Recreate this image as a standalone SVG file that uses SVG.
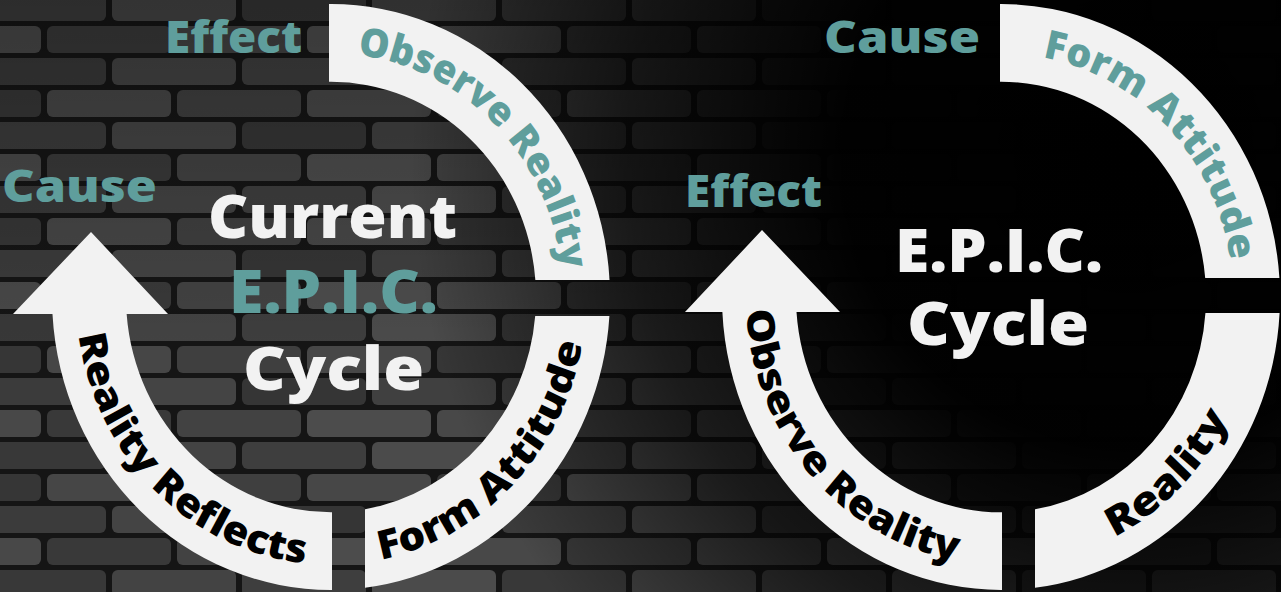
<svg xmlns="http://www.w3.org/2000/svg" xmlns:xlink="http://www.w3.org/1999/xlink" width="1281" height="592" viewBox="0 0 1281 592">
<defs>
  <pattern id="bricks" patternUnits="userSpaceOnUse" x="-20" y="-8" width="520" height="128">
    <rect width="520" height="128" fill="#151515"/>
    <g>
      <rect x="2" y="2" width="124" height="27" rx="6" fill="#3b3b3b"/>
      <rect x="132" y="2" width="124" height="27" rx="6" fill="#444444"/>
      <rect x="262" y="2" width="124" height="27" rx="6" fill="#353535"/>
      <rect x="392" y="2" width="124" height="27" rx="6" fill="#404040"/>
      <rect x="-63" y="34" width="124" height="27" rx="6" fill="#484848"/>
      <rect x="457" y="34" width="124" height="27" rx="6" fill="#484848"/>
      <rect x="67" y="34" width="124" height="27" rx="6" fill="#393939"/>
      <rect x="197" y="34" width="124" height="27" rx="6" fill="#424242"/>
      <rect x="327" y="34" width="124" height="27" rx="6" fill="#4c4c4c"/>
      <rect x="2" y="66" width="124" height="27" rx="6" fill="#383838"/>
      <rect x="132" y="66" width="124" height="27" rx="6" fill="#434343"/>
      <rect x="262" y="66" width="124" height="27" rx="6" fill="#3e3e3e"/>
      <rect x="392" y="66" width="124" height="27" rx="6" fill="#4b4b4b"/>
      <rect x="-63" y="98" width="124" height="27" rx="6" fill="#363636"/>
      <rect x="457" y="98" width="124" height="27" rx="6" fill="#363636"/>
      <rect x="67" y="98" width="124" height="27" rx="6" fill="#464646"/>
      <rect x="197" y="98" width="124" height="27" rx="6" fill="#3f3f3f"/>
      <rect x="327" y="98" width="124" height="27" rx="6" fill="#474747"/>
    </g>
  </pattern>
  <radialGradient id="darkR" gradientUnits="userSpaceOnUse" cx="1130" cy="160" r="720">
    <stop offset="0" stop-color="#000" stop-opacity="1"/>
    <stop offset="0.4" stop-color="#000" stop-opacity="0.98"/>
    <stop offset="0.7" stop-color="#000" stop-opacity="0.6"/>
    <stop offset="1" stop-color="#000" stop-opacity="0"/>
  </radialGradient>
  <linearGradient id="darkTop" x1="0" y1="0" x2="0" y2="1">
    <stop offset="0" stop-color="#000" stop-opacity="0.25"/>
    <stop offset="0.6" stop-color="#000" stop-opacity="0"/>
  </linearGradient>
  <path id="tpOutL" d="M0,-232 A232,232 0 0 1 232,0"/>
  <path id="tpBR" d="M0,255 A255,255 0 0 0 255,0"/>
  <path id="tpBL" d="M-255,0 A255,255 0 0 0 0,255"/>
  <style>
    .seg { fill: #f2f2f2; }
    .arc { font-family: "Open Sans", "Liberation Sans", sans-serif; font-weight: 800; font-size: 38px; }
    .teal { fill: #5f9e9c; }
    .blk { fill: #000000; }
    .lbl { font-family: "Open Sans", "Liberation Sans", sans-serif; font-weight: 800; font-size: 45px; fill: #5f9e9c; }
    .big { font-family: "Open Sans", "Liberation Sans", sans-serif; font-weight: 800; font-size: 60px; }
    .wht { fill: #f2f2f2; }
  </style>
</defs>

<g id="background">
  <rect width="1281" height="592" fill="url(#bricks)"/>
  <rect width="1281" height="592" fill="url(#darkTop)"/>
  <rect width="1281" height="592" fill="url(#darkR)"/>
</g>

<g id="cycle-left">
  <g id="left-observe-reality" transform="translate(331,297) scale(1,1.05)">
    <path class="seg" d="M-2,-279 A279,279 0 0 1 278.53,-16.2 L204.36,-16.2 A205,205 0 0 0 -2,-204.99 Z"/>
    <text class="arc teal" text-anchor="middle"><textPath href="#tpOutL" startOffset="50%" textLength="312" lengthAdjust="spacingAndGlyphs">Observe Reality</textPath></text>
  </g>
  <g id="left-form-attitude" transform="translate(331,297) scale(1,1.05)">
    <path class="seg" d="M278.41,18.1 A279,279 0 0 1 34,276.92 L34,202.16 A205,205 0 0 0 204.2,18.1 Z"/>
    <text class="arc blk" text-anchor="middle"><textPath href="#tpBR" startOffset="50.7%" textLength="306" lengthAdjust="spacingAndGlyphs">Form Attitude</textPath></text>
  </g>
  <g id="left-labels">
    <text class="lbl" x="165" y="53" textLength="137" lengthAdjust="spacingAndGlyphs">Effect</text>
    <text class="lbl" x="2" y="202" textLength="155" lengthAdjust="spacingAndGlyphs">Cause</text>
    <text class="big wht" x="208" y="238" textLength="249" lengthAdjust="spacingAndGlyphs">Current</text>
    <text class="big teal" x="229" y="313" textLength="209" lengthAdjust="spacingAndGlyphs">E.P.I.C.</text>
    <text class="big wht" x="243" y="390" textLength="181" lengthAdjust="spacingAndGlyphs">Cycle</text>
  </g>
</g>

<g id="cycle-right">
  <g id="right-form-attitude" transform="translate(1001,297) scale(1,1.05)">
    <path class="seg" d="M-1,-279 A279,279 0 0 1 278.41,-18.1 L204.2,-18.1 A205,205 0 0 0 -1,-205 Z"/>
    <text class="arc teal" text-anchor="middle"><textPath href="#tpOutL" startOffset="51%" textLength="288" lengthAdjust="spacingAndGlyphs">Form Attitude</textPath></text>
  </g>
  <g id="right-reality" transform="translate(1001,297) scale(1,1.05)">
    <path class="seg" d="M278.59,15.2 A279,279 0 0 1 34,276.92 L34,202.16 A205,205 0 0 0 204.44,15.2 Z"/>
    <text class="arc blk" text-anchor="middle"><textPath href="#tpBR" startOffset="49.7%" textLength="164" lengthAdjust="spacingAndGlyphs">Reality</textPath></text>
  </g>
  <g id="right-labels">
    <text class="lbl" x="824" y="53" textLength="156" lengthAdjust="spacingAndGlyphs">Cause</text>
    <text class="lbl" x="685" y="207" textLength="137" lengthAdjust="spacingAndGlyphs">Effect</text>
    <text class="big wht" x="895" y="272" textLength="208" lengthAdjust="spacingAndGlyphs">E.P.I.C.</text>
    <text class="big wht" x="907" y="345" textLength="182" lengthAdjust="spacingAndGlyphs">Cycle</text>
  </g>
</g>

<g id="connectors">
  <g id="left-arrow-reality-reflects" transform="translate(331,297) scale(1,1.05)">
    <path class="seg" d="M1,279 A279,279 0 0 1 -278.53,16.2 L-318,16.2 L-240,-61.9 L-163,16.2 L-204.36,16.2 A205,205 0 0 0 1,205 Z"/>
    <text class="arc blk" text-anchor="middle"><textPath href="#tpBL" startOffset="51.3%" textLength="338" lengthAdjust="spacingAndGlyphs">Reality Reflects</textPath></text>
  </g>
  <g id="right-arrow-observe-reality" transform="translate(1001,297) scale(1,1.05)">
    <path class="seg" d="M1,279 A279,279 0 0 1 -278.63,14.3 L-316,14.3 L-239,-63.8 L-161,14.3 L-204.5,14.3 A205,205 0 0 0 1,205 Z"/>
    <text class="arc blk" text-anchor="middle"><textPath href="#tpBL" startOffset="46%" textLength="343" lengthAdjust="spacingAndGlyphs">Observe Reality</textPath></text>
  </g>
</g>
</svg>
